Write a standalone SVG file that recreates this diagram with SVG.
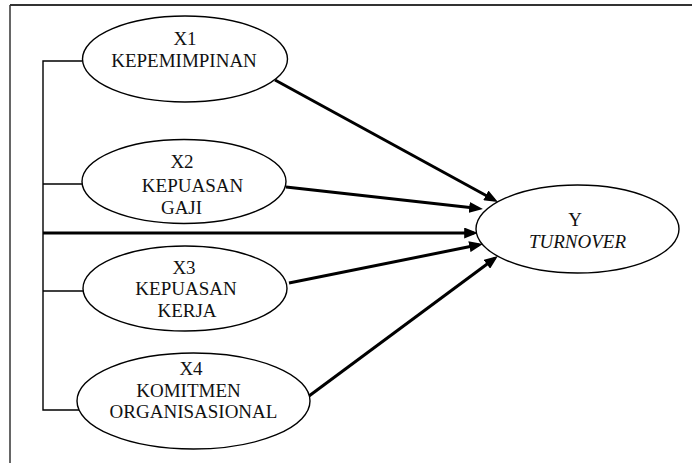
<svg xmlns="http://www.w3.org/2000/svg" width="692" height="463" viewBox="0 0 692 463">
<style>
.node ellipse{fill:#fff;stroke:#000;stroke-width:1.4}
text{font-family:"Liberation Serif","Times New Roman",serif;font-size:19px;fill:#111;text-anchor:middle}
.thin{stroke:#000;stroke-width:1.4;fill:none}
.thick{stroke:#000;stroke-width:3;fill:none;marker-end:url(#ah)}
</style>
<defs>
<marker id="ah" viewBox="0 0 10 8" refX="7" refY="4" markerWidth="14" markerHeight="11" markerUnits="userSpaceOnUse" orient="auto">
<path d="M0,0 L10,4 L0,8 z" fill="#000"/>
</marker>
</defs>
<rect width="692" height="463" fill="#fff"/>
<g id="frame">
<line x1="10" y1="5" x2="692" y2="5" stroke="#333" stroke-width="2"/>
<line x1="10" y1="5" x2="10" y2="463" stroke="#333" stroke-width="1.5"/>
</g>
<g id="connectors">
<polyline class="thin" points="82,61 43,61 43,410 84,410"/>
<line class="thin" x1="43" y1="184" x2="82" y2="184"/>
<line class="thin" x1="43" y1="291" x2="83" y2="291"/>
<line class="thick" x1="275" y1="80" x2="494.3" y2="200"/>
<line class="thick" x1="286" y1="187" x2="478.8" y2="208.5"/>
<line class="thick" x1="43" y1="233" x2="473.8" y2="233"/>
<line class="thick" x1="289" y1="283" x2="478.9" y2="244.8"/>
<line class="thick" x1="309" y1="396" x2="494.6" y2="258.5"/>
</g>
<g id="x1" class="node">
<ellipse cx="185" cy="59" rx="102.5" ry="43"/>
<text x="185" y="45">X1</text>
<text x="184" y="67">KEPEMIMPINAN</text>
</g>
<g id="x2" class="node">
<ellipse cx="184" cy="181.5" rx="102" ry="42"/>
<text x="182" y="168">X2</text>
<text x="192.5" y="192">KEPUASAN</text>
<text x="181.5" y="214">GAJI</text>
</g>
<g id="x3" class="node">
<ellipse cx="185" cy="288.5" rx="102" ry="42.5"/>
<text x="184" y="274">X3</text>
<text x="186" y="295">KEPUASAN</text>
<text x="187" y="317">KERJA</text>
</g>
<g id="x4" class="node">
<ellipse cx="193.5" cy="401" rx="116.5" ry="48"/>
<text x="191" y="375">X4</text>
<text x="188.5" y="397">KOMITMEN</text>
<text x="193.5" y="418">ORGANISASIONAL</text>
</g>
<g id="y" class="node">
<ellipse cx="577.5" cy="229" rx="101.5" ry="44"/>
<text x="575" y="226">Y</text>
<text x="577.5" y="248" font-style="italic">TURNOVER</text>
</g>
</svg>
